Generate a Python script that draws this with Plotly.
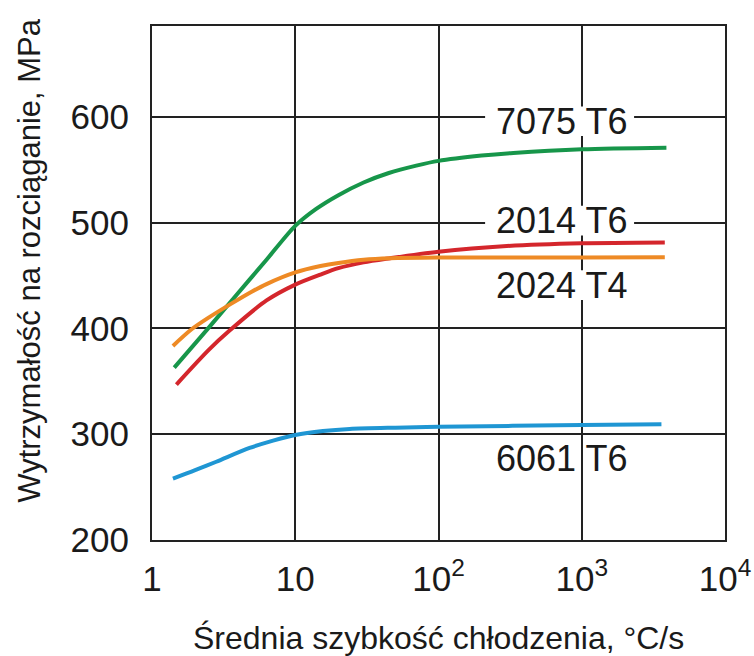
import plotly.graph_objects as go
import math

# Data
rate_7075 = [1.43, 2.5, 3.58, 6.3, 10, 14, 20, 30, 45, 70, 100, 200, 333, 1000, 3900]
uts_7075 = [363, 401, 426, 465, 497, 513, 526, 538, 547, 554, 558.5, 563.5, 566, 569.5, 571]

rate_2014 = [1.48, 2.5, 3.48, 6.3, 10, 15, 20, 30, 46, 100, 300, 1000, 3800]
uts_2014 = [347, 380, 398, 426.5, 441.5, 451, 457, 462.5, 466.4, 472.6, 478, 480.6, 481.4]

rate_2024 = [1.4, 1.88, 2.5, 3.58, 5, 6.3, 10, 15, 20, 30, 46, 100, 1000, 3800]
uts_2024 = [383.5, 399, 410.5, 423.5, 435, 442, 453, 459, 462, 465, 466.4, 467, 467, 467.3]

rate_6061 = [1.4, 2.0, 2.81, 4.8, 7.0, 10, 15.6, 24, 50, 100, 1000, 3600]
uts_6061 = [258, 266, 274, 287, 294, 299.3, 303, 305, 306.2, 307, 308.7, 309.4]

labels = ["7075 T6", "2014 T6", "2024 T4", "6061 T6"]
label_x = [720, 720, 720, 720]
label_y = [596, 502, 441, 277]
label_masked = [True, True, True, False]

x_tickvals = [1, 10, 100, 1000, 10000]
x_ticktext = ["1", "10", "10<sup>2</sup>", "10<sup>3</sup>", "10<sup>4</sup>"]
y_tickvals = [200, 300, 400, 500, 600]

X_RANGE = [0, 4]
Y_RANGE = [200, 686]

FONT = "Liberation Sans, Arial, sans-serif"
series = [
    (rate_7075, uts_7075, "#17964a"),
    (rate_2014, uts_2014, "#d4262c"),
    (rate_2024, uts_2024, "#ee8a25"),
    (rate_6061, uts_6061, "#1f96d3"),
]

fig = go.Figure()
for xs, ys, col in series:
    fig.add_trace(go.Scatter(x=xs, y=ys, mode="lines",
                             line=dict(color=col, width=4, shape="spline", smoothing=0.8),
                             showlegend=False, hoverinfo="skip"))

for t, lx, ly, masked in zip(labels, label_x, label_y, label_masked):
    if masked:
        # white patch hiding the gridlines behind the label text
        px = (math.log10(lx) - X_RANGE[0]) / (X_RANGE[1] - X_RANGE[0])
        fig.add_shape(type="rect", xref="paper", yref="y", layer="above",
                      x0=px - 0.133, x1=px + 0.127, y0=ly - 14, y1=ly + 14,
                      fillcolor="white", line=dict(width=0))
    fig.add_annotation(x=math.log10(lx), y=ly, xref="x", yref="y", text=t,
                       showarrow=False, font=dict(family=FONT, size=36, color="#1a1a1a"),
                       xanchor="center", yanchor="middle")

fig.add_annotation(x=-0.213, y=0.545, xref="paper", yref="paper",
                   text="Wytrzymałość na rozciąganie, MPa", textangle=-90,
                   showarrow=False, font=dict(family=FONT, size=31, color="#1a1a1a"),
                   xanchor="center", yanchor="middle")
fig.add_annotation(x=0.5, y=-0.19, xref="paper", yref="paper",
                   text="Średnia szybkość chłodzenia, °C/s",
                   showarrow=False, font=dict(family=FONT, size=32, color="#1a1a1a"),
                   xanchor="center", yanchor="middle")

axis_common = dict(showline=True, mirror=True, linecolor="#222222", linewidth=2,
                   showgrid=True, gridcolor="#222222", gridwidth=1.5,
                   ticks="", zeroline=False, automargin=False,
                   tickfont=dict(family=FONT, size=35, color="#1a1a1a"))

fig.update_xaxes(type="log", range=X_RANGE, tickvals=x_tickvals, ticktext=x_ticktext,
                 ticklabelstandoff=7, **axis_common)
fig.update_yaxes(range=Y_RANGE, tickvals=y_tickvals, ticklabelstandoff=14, **axis_common)

fig.update_layout(width=754, height=656, margin=dict(l=152, r=29, t=26, b=116),
                  paper_bgcolor="white", plot_bgcolor="white",
                  font=dict(family=FONT))

fig.write_html("out.html")
